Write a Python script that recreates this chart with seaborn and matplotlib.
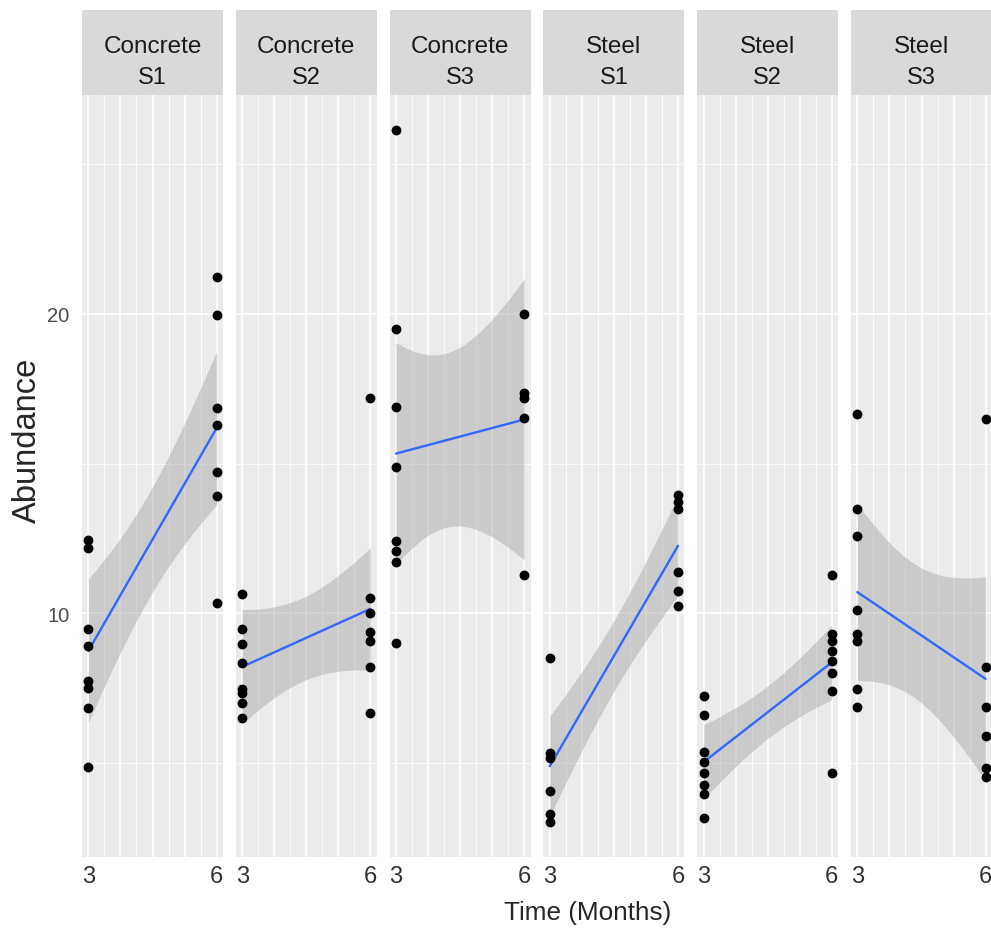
import math
import numpy as np
import pandas as pd
import matplotlib.pyplot as plt
from matplotlib.patches import Rectangle
import seaborn as sns

# Abundance per panel, split by sampling time (3 and 6 months)
concreteS1_m3 = [12.44, 12.19, 9.48, 8.91, 7.76, 7.5, 6.86, 4.89]
concreteS1_m6 = [21.21, 19.94, 16.86, 16.28, 14.72, 13.91, 10.36]
concreteS2_m3 = [10.64, 9.48, 8.98, 8.33, 7.48, 7.35, 7.0, 6.5]
concreteS2_m6 = [17.19, 10.52, 10.0, 9.39, 9.08, 8.22, 6.67]
concreteS3_m3 = [26.14, 19.49, 16.89, 14.89, 12.42, 12.08, 11.72, 9.03]
concreteS3_m6 = [20.0, 17.35, 17.2, 16.53, 11.27]
steelS1_m3 = [8.52, 5.33, 5.17, 4.08, 3.3, 3.03]
steelS1_m6 = [13.94, 13.72, 13.5, 11.39, 10.74, 10.24]
steelS2_m3 = [7.24, 6.61, 5.37, 5.06, 4.67, 4.26, 3.97, 3.17]
steelS2_m6 = [11.28, 9.33, 9.08, 8.74, 8.41, 8.0, 7.42, 4.67]
steelS3_m3 = [16.67, 13.5, 12.59, 10.13, 9.33, 9.09, 7.48, 6.89]
steelS3_m6 = [16.5, 8.22, 6.89, 5.91, 4.83, 4.56]

panels = [
    ("Concrete", "S1", concreteS1_m3, concreteS1_m6),
    ("Concrete", "S2", concreteS2_m3, concreteS2_m6),
    ("Concrete", "S3", concreteS3_m3, concreteS3_m6),
    ("Steel", "S1", steelS1_m3, steelS1_m6),
    ("Steel", "S2", steelS2_m3, steelS2_m6),
    ("Steel", "S3", steelS3_m3, steelS3_m6),
]

rows = []
for mat, site, m3, m6 in panels:
    rows += [(mat, site, 3, v) for v in m3]
    rows += [(mat, site, 6, v) for v in m6]
df = pd.DataFrame(rows, columns=["Material", "Site", "Time", "Abundance"])


def tQuantile(nu, q=0.975):
    # numeric inverse of the Student t cdf (no scipy here)
    grid = np.linspace(0, 30, 300001)
    c = math.gamma((nu + 1) / 2) / (math.sqrt(nu * math.pi) * math.gamma(nu / 2))
    pdf = c * (1 + grid ** 2 / nu) ** (-(nu + 1) / 2)
    cdf = 0.5 + np.concatenate([[0], np.cumsum((pdf[1:] + pdf[:-1]) / 2 * np.diff(grid))])
    return np.interp(q, cdf, grid)


def lmBand(x, y, xs):
    # same band as ggplot's geom_smooth(method = "lm")
    n = len(x)
    b1, b0 = np.polyfit(x, y, 1)
    resid = y - (b0 + b1 * x)
    s = np.sqrt(np.sum(resid ** 2) / (n - 2))
    sxx = np.sum((x - x.mean()) ** 2)
    se = s * np.sqrt(1 / n + (xs - x.mean()) ** 2 / sxx)
    fit = b0 + b1 * xs
    t = tQuantile(n - 2)
    return fit - t * se, fit + t * se


sns.set_style("white")
plt.rcParams['font.family'] = ['Liberation Sans', 'DejaVu Sans']

fig, axes = plt.subplots(1, 6, figsize=(9.91, 9.29), dpi=100, sharey=True)
W, H = 991.0, 929.0

# ggplot-like 5% expansion of the data range
ylo, yhi = df["Abundance"].min(), df["Abundance"].max()
ypad = (yhi - ylo) * 0.05

for i, (ax, (mat, site, _, _)) in enumerate(zip(axes, panels)):
    left = 82 + i * 153.8
    ax.set_position([left / W, 1 - 858 / H, 141 / W, 762 / H])
    sub = df[(df["Material"] == mat) & (df["Site"] == site)]

    xs = np.linspace(sub["Time"].min(), sub["Time"].max(), 120)
    lo, hi = lmBand(sub["Time"].to_numpy(float), sub["Abundance"].to_numpy(float), xs)
    ax.fill_between(xs, lo, hi, color="#999999", alpha=0.4, lw=0, zorder=2)

    sns.regplot(data=sub, x="Time", y="Abundance", ax=ax, ci=None,
                scatter_kws={"color": "black", "s": 50, "alpha": 1, "linewidths": 0, "zorder": 4},
                line_kws={"color": "#3366FF", "lw": 1.7, "zorder": 3})

    ax.set_facecolor("#EBEBEB")
    for s in ax.spines.values():
        s.set_visible(False)
    ax.set_xlim(2.85, 6.15)
    ax.set_ylim(ylo - ypad, yhi + ypad)
    ax.set_xticks([3, 3.75, 4.5, 5.25, 6])
    ax.set_xticklabels(["3", "", "", "", "6"])
    ax.set_xticks([3.375, 4.125, 4.875, 5.625], minor=True)
    ax.set_yticks([10, 20])
    ax.set_yticks([5, 15, 25], minor=True)
    ax.grid(which="major", color="white", lw=1.2)
    ax.grid(which="minor", color="white", lw=0.6)
    ax.set_axisbelow(True)
    ax.tick_params(axis="x", which="major", length=4, width=0.9, color="#333333",
                   labelsize=17, labelcolor="#333333", pad=2)
    ax.tick_params(axis="y", which="major", length=4, width=0.9, color="#333333",
                   labelsize=14.5, labelcolor="#4D4D4D", pad=5)
    ax.tick_params(which="minor", length=0)
    if i > 0:
        ax.tick_params(axis="y", which="major", length=0, labelleft=False)
    ax.set_xlabel("")
    ax.set_ylabel("")

    # facet strip
    ax.add_patch(Rectangle((0, 1), 1, 85 / 762, transform=ax.transAxes,
                           facecolor="#D9D9D9", edgecolor="none", clip_on=False))
    ax.text(0.5, (858 - 47) / 762, mat, transform=ax.transAxes, ha="center", va="center",
            fontsize=17.5, color="#1A1A1A")
    ax.text(0.5, (858 - 78) / 762, site, transform=ax.transAxes, ha="center", va="center",
            fontsize=17, color="#1A1A1A")

fig.text(27 / W, 1 - 440 / H, "Abundance", rotation=90, ha="center", va="center", fontsize=23.5)
fig.text(588 / W, 1 - 913 / H, "Time (Months)", ha="center", va="center", fontsize=18.8)

plt.savefig("out.png", dpi=100)
